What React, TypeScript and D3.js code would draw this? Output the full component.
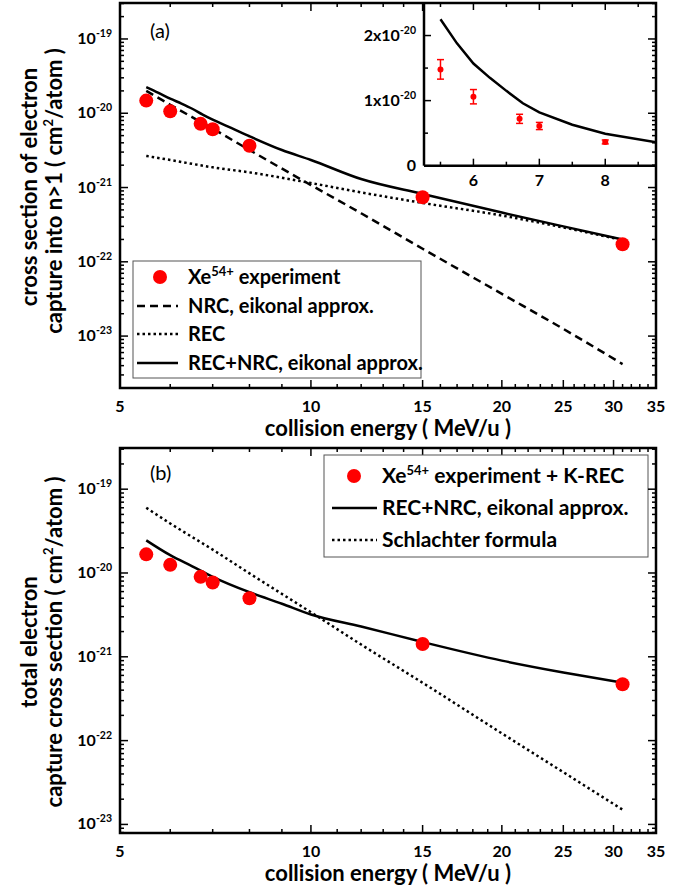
import React, { useRef, useEffect } from 'react';
import * as d3 from 'd3';

const W = 690;
const H = 888;
const FONT = 'Lato, "Open Sans", sans-serif';

// experiment (MeV/u)
const expEnergy = [5.5, 6, 6.7, 7, 8, 15, 31];
const expNgt1 = [1.48e-20, 1.06e-20, 7.2e-21, 6.1e-21, 3.65e-21, 7.4e-22, 1.72e-22];
const expNgt1Err = [1.5e-21, 1.1e-21, 7e-22, 5.5e-22, 3e-22, 0, 0];
const expTotal = [1.67e-20, 1.25e-20, 9.0e-21, 7.7e-21, 5.0e-21, 1.42e-21, 4.7e-22];

// theory, panel (a)
const nrcEnergy = [5.5, 6, 7, 8, 10, 12, 15, 20, 25, 31];
const nrcValues = [2.0e-20, 1.3e-20, 6.2e-21, 3.2e-21, 1.08e-21, 4.5e-22, 1.5e-22, 3.7e-23, 1.25e-23, 4.2e-24];
const recValues = [2.66e-21, 2.35e-21, 1.87e-21, 1.6e-21, 1.15e-21, 8.6e-22, 6.2e-22, 4.2e-22, 2.9e-22, 1.96e-22];
const sumEnergy = [5.5, 5.75, 6, 6.25, 6.5, 6.75, 7, 7.5, 8, 9, 10, 12, 15, 20, 25, 31];
const sumValues = [2.25e-20, 1.88e-20, 1.57e-20, 1.35e-20, 1.15e-20, 9.6e-21, 8.2e-21, 6.3e-21, 4.9e-21, 3.2e-21, 2.35e-21, 1.3e-21, 8.2e-22, 4.6e-22, 3.0e-22, 2.0e-22];

// theory, panel (b)
const totEnergy = [5.5, 6, 6.5, 7, 8, 9, 10, 12, 15, 20, 25, 31];
const totValues = [2.45e-20, 1.63e-20, 1.2e-20, 9.0e-21, 5.9e-21, 4.3e-21, 3.2e-21, 2.3e-21, 1.5e-21, 9.0e-22, 6.5e-22, 4.9e-22];
const schEnergy = [5.5, 6, 7, 8, 10, 12, 15, 20, 25, 31];
const schValues = [6.0e-20, 3.9e-20, 1.9e-20, 9.9e-21, 3.4e-21, 1.4e-21, 4.9e-22, 1.22e-22, 4.2e-23, 1.5e-23];

// ticks
const xTicks = d3.range(5, 36);
const xMajor = [5, 10, 15, 20, 25, 30, 35];
const decades = [-24, -23, -22, -21, -20, -19];
const insetXTicks = [5.5, 6, 6.5, 7, 7.5, 8, 8.5];
const insetXMajor = [6, 7, 8];
const insetYTicks = [0, 0.5e-20, 1e-20, 1.5e-20, 2e-20];
const insetYLabels = [['0', ''], ['1x10', '-20'], ['2x10', '-20']];

const zip = (xs, ys) => xs.map((x, i) => [x, ys[i]]);

const addSup = (text, base, sup, rest, size, supSize, rise) => {
  text.append('tspan').text(base);
  text.append('tspan').attr('font-size', supSize).attr('dy', -rise).text(sup);
  if (rest) text.append('tspan').attr('font-size', size).attr('dy', rise).text(rest);
};

const App = () => {
  const svgRef = useRef();

  useEffect(() => {
    document.body.style.margin = '0';
    const svg = d3.select(svgRef.current);
    svg.selectAll('*').remove();
    svg.attr('width', W).attr('height', H).style('font-family', FONT);
    svg.append('rect').attr('width', W).attr('height', H).attr('fill', '#fff');

    const left = 120;
    const right = 656;
    const x = d3.scaleLog().domain([5, 35]).range([left, right]);

    const drawFrame = (g, y, top, bottom, withRight) => {
      const yMin = y.domain()[0];
      const yMax = y.domain()[1];
      const yTicks = [];
      decades.forEach(k => d3.range(1, 10).forEach(m => {
        const v = m * Math.pow(10, k);
        if (v >= yMin && v <= yMax) yTicks.push({ v, major: m === 1, k });
      }));
      if (!withRight) {
        // bottom + top ticks
        xTicks.forEach(t => {
          const len = xMajor.includes(t) ? 8 : 4;
          g.append('line').attr('x1', x(t)).attr('x2', x(t)).attr('y1', bottom).attr('y2', bottom - len)
            .attr('stroke', '#000').attr('stroke-width', 1.5);
          g.append('line').attr('x1', x(t)).attr('x2', x(t)).attr('y1', top).attr('y2', top + len)
            .attr('stroke', '#000').attr('stroke-width', 1.5);
        });
        // left ticks + labels
        yTicks.forEach(t => {
          const len = t.major ? 8 : 4;
          g.append('line').attr('x1', left).attr('x2', left + len).attr('y1', y(t.v)).attr('y2', y(t.v))
            .attr('stroke', '#000').attr('stroke-width', 1.5);
          if (t.major) {
            const txt = g.append('text').attr('x', left - 8).attr('y', y(t.v) + 5)
              .attr('text-anchor', 'end').attr('font-size', 16).attr('font-weight', 'bold');
            addSup(txt, '10', String(t.k), null, 16, 10.5, 7);
          }
        });
        xMajor.forEach(t => {
          g.append('text').attr('x', x(t)).attr('y', bottom + 24).attr('text-anchor', 'middle')
            .attr('font-size', 16).attr('font-weight', 'bold').text(t);
        });
        g.append('text').attr('x', 388).attr('y', bottom + 48).attr('text-anchor', 'middle')
          .attr('font-size', 22).attr('font-weight', 'bold').text('collision energy ( MeV/u )');
      } else {
        yTicks.forEach(t => {
          const len = t.major ? 8 : 4;
          g.append('line').attr('x1', right).attr('x2', right - len).attr('y1', y(t.v)).attr('y2', y(t.v))
            .attr('stroke', '#000').attr('stroke-width', 1.5);
        });
        g.append('rect').attr('x', left).attr('y', top).attr('width', right - left).attr('height', bottom - top)
          .attr('fill', 'none').attr('stroke', '#000').attr('stroke-width', 2.5);
      }
    };

    const yTitle = (g, cx, cy, text, sup, rest) => {
      const t = g.append('text').attr('transform', `translate(${cx},${cy}) rotate(-90)`)
        .attr('text-anchor', 'middle').attr('font-size', 22).attr('font-weight', 'bold');
      if (sup) addSup(t, text, sup, rest, 22, 13, 9);
      else t.text(text);
    };

    const drawSeries = (g, y, pts, dash) => {
      const line = d3.line().x(d => x(d[0])).y(d => y(d[1])).curve(d3.curveMonotoneX);
      const p = g.append('path').datum(pts).attr('d', line).attr('fill', 'none')
        .attr('stroke', '#000').attr('stroke-width', 2.5);
      if (dash) p.attr('stroke-dasharray', dash);
      return p;
    };

    const legendBox = (g, bx, by, bw, bh) => {
      g.append('rect').attr('x', bx).attr('y', by).attr('width', bw).attr('height', bh)
        .attr('fill', '#fff').attr('stroke', '#555').attr('stroke-width', 1);
    };
    const legendLine = (g, x1, x2, ly, dash) => {
      const l = g.append('line').attr('x1', x1).attr('x2', x2).attr('y1', ly).attr('y2', ly)
        .attr('stroke', '#000').attr('stroke-width', 2.5);
      if (dash) l.attr('stroke-dasharray', dash);
    };
    const legendText = (g, lx, ly, text, size) => g.append('text').attr('x', lx).attr('y', ly + 7)
      .attr('font-size', size).attr('font-weight', 'bold').text(text);

    const DASH = '8,5';
    const DOT = '2.5,3';

    // ---------- panel (a) ----------
    const ga = svg.append('g');
    const ya = d3.scaleLog().domain([2e-24, 3.05e-19]).range([388, 3]);
    drawFrame(ga, ya, 3, 388, false);
    yTitle(ga, 37, 187, 'cross section of electron');
    yTitle(ga, 62, 191, 'capture into n>1 ( cm', '2', '/atom )');
    ga.append('text').attr('x', 150).attr('y', 38).attr('font-size', 20).text('(a)');

    drawSeries(ga, ya, zip(nrcEnergy, nrcValues), DASH);
    drawSeries(ga, ya, zip(nrcEnergy, recValues), DOT);
    drawSeries(ga, ya, zip(sumEnergy, sumValues), null);
    ga.selectAll('.pa').data(zip(expEnergy, expNgt1)).enter().append('circle')
      .attr('cx', d => x(d[0])).attr('cy', d => ya(d[1])).attr('r', 7).attr('fill', '#ff0000');

    legendBox(ga, 133, 261, 288, 117);
    ga.append('circle').attr('cx', 160).attr('cy', 277).attr('r', 7).attr('fill', '#ff0000');
    const la = legendText(ga, 188, 277, '', 20);
    addSup(la, 'Xe', '54+', ' experiment', 20, 13, 8);
    legendLine(ga, 137, 178, 306, DASH);
    legendText(ga, 188, 306, 'NRC, eikonal approx.', 20);
    legendLine(ga, 137, 178, 334, DOT);
    legendText(ga, 188, 334, 'REC', 20);
    legendLine(ga, 137, 178, 363, null);
    legendText(ga, 188, 363, 'REC+NRC, eikonal approx.', 20);

    // inset
    const ix = d3.scaleLinear().domain([5.25, 8.77]).range([424, right]);
    const iy = d3.scaleLinear().domain([0, 2.5e-20]).range([165.7, 3]);
    const gi = ga.append('g');
    gi.append('rect').attr('x', 424).attr('y', 3).attr('width', right - 424).attr('height', 162.7).attr('fill', '#fff');
    svg.append('defs').append('clipPath').attr('id', 'insetClip').append('rect')
      .attr('x', 424).attr('y', 3).attr('width', right - 424).attr('height', 162.7);
    insetXTicks.forEach(t => {
      const len = insetXMajor.includes(t) ? 7 : 4;
      gi.append('line').attr('x1', ix(t)).attr('x2', ix(t)).attr('y1', 165.7).attr('y2', 165.7 - len)
        .attr('stroke', '#000').attr('stroke-width', 1.5);
      gi.append('line').attr('x1', ix(t)).attr('x2', ix(t)).attr('y1', 3).attr('y2', 3 + len)
        .attr('stroke', '#000').attr('stroke-width', 1.5);
    });
    insetXMajor.forEach(t => {
      gi.append('text').attr('x', ix(t)).attr('y', 186).attr('text-anchor', 'middle')
        .attr('font-size', 16).attr('font-weight', 'bold').text(t);
    });
    insetYTicks.forEach((t, i) => {
      const major = i % 2 === 0;
      gi.append('line').attr('x1', 424).attr('x2', 424 + (major ? 7 : 4)).attr('y1', iy(t)).attr('y2', iy(t))
        .attr('stroke', '#000').attr('stroke-width', 1.5);
      if (major) {
        const lab = insetYLabels[i / 2];
        const txt = gi.append('text').attr('x', 416).attr('y', iy(t) + 5).attr('text-anchor', 'end')
          .attr('font-size', 16).attr('font-weight', 'bold');
        addSup(txt, lab[0], lab[1], null, 16, 10.5, 7);
      }
    });
    const iline = d3.line().x(d => ix(d[0])).y(d => iy(d[1]));
    gi.append('path').datum(zip(sumEnergy, sumValues)).attr('d', iline).attr('clip-path', 'url(#insetClip)')
      .attr('fill', 'none').attr('stroke', '#000').attr('stroke-width', 2.5);
    const insetPts = zip(expEnergy, expNgt1).map((d, i) => [d[0], d[1], expNgt1Err[i]]).filter(d => d[0] < 8.77);
    insetPts.forEach(d => {
      const cx = ix(d[0]);
      const g = gi.append('g').attr('stroke', '#ff0000').attr('stroke-width', 1.5);
      g.append('line').attr('x1', cx).attr('x2', cx).attr('y1', iy(d[1] - d[2])).attr('y2', iy(d[1] + d[2]));
      g.append('line').attr('x1', cx - 3.5).attr('x2', cx + 3.5).attr('y1', iy(d[1] - d[2])).attr('y2', iy(d[1] - d[2]));
      g.append('line').attr('x1', cx - 3.5).attr('x2', cx + 3.5).attr('y1', iy(d[1] + d[2])).attr('y2', iy(d[1] + d[2]));
      gi.append('circle').attr('cx', cx).attr('cy', iy(d[1])).attr('r', 3).attr('fill', '#ff0000');
    });
    gi.append('line').attr('x1', 424).attr('x2', 424).attr('y1', 3).attr('y2', 165.7)
      .attr('stroke', '#000').attr('stroke-width', 2.5);
    gi.append('line').attr('x1', 424).attr('x2', right).attr('y1', 165.7).attr('y2', 165.7)
      .attr('stroke', '#000').attr('stroke-width', 2.5);

    drawFrame(ga, ya, 3, 388, true);

    // ---------- panel (b) ----------
    const gb = svg.append('g');
    const yb = d3.scaleLog().domain([7.9e-24, 3.1e-19]).range([833, 448]);
    drawFrame(gb, yb, 448, 833, false);
    yTitle(gb, 37, 642, 'total electron');
    yTitle(gb, 62, 642, 'capture cross section ( cm', '2', '/atom )');
    gb.append('text').attr('x', 150).attr('y', 480).attr('font-size', 20).text('(b)');

    drawSeries(gb, yb, zip(schEnergy, schValues), DOT);
    drawSeries(gb, yb, zip(totEnergy, totValues), null);
    gb.selectAll('.pb').data(zip(expEnergy, expTotal)).enter().append('circle')
      .attr('cx', d => x(d[0])).attr('cy', d => yb(d[1])).attr('r', 7).attr('fill', '#ff0000');

    legendBox(gb, 324, 455, 324, 102);
    gb.append('circle').attr('cx', 354).attr('cy', 476).attr('r', 7).attr('fill', '#ff0000');
    const lb = legendText(gb, 382, 476, '', 21);
    addSup(lb, 'Xe', '54+', ' experiment + K-REC', 21, 13, 8);
    legendLine(gb, 332, 377, 508, null);
    legendText(gb, 382, 508, 'REC+NRC, eikonal approx.', 21);
    legendLine(gb, 332, 377, 540, DOT);
    legendText(gb, 382, 540, 'Schlachter formula', 21);

    drawFrame(gb, yb, 448, 833, true);
  }, []);

  return <svg ref={svgRef}></svg>;
};

export default App;
